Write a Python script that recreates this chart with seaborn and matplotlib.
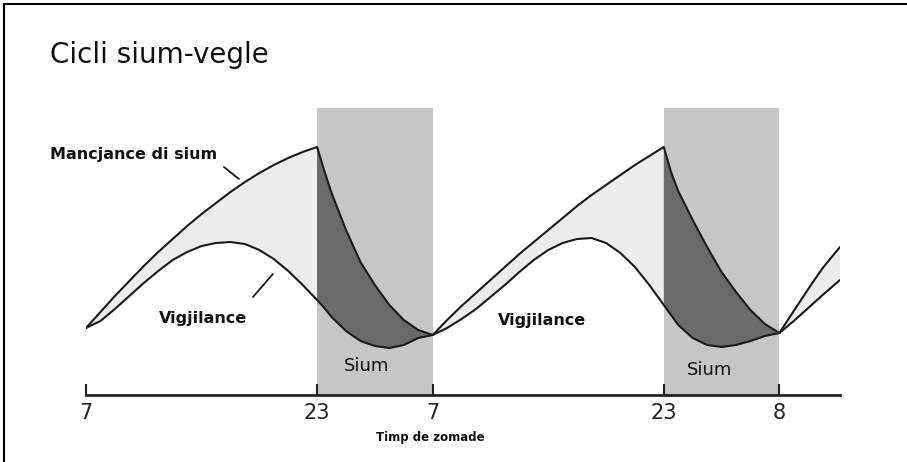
import matplotlib
matplotlib.use("Agg")
import matplotlib.pyplot as plt
from matplotlib.lines import Line2D
import numpy as np
import pandas as pd
import seaborn as sns

# hours since 7:00 of the first day
hours = [0, 1, 2, 3, 4, 5, 6, 7, 8, 9, 10, 11, 12, 13, 14, 15, 16,
         16.5, 17, 18, 19, 20, 21, 22, 23, 24,
         25, 26, 27, 28, 29, 30, 31, 32, 33, 34, 35, 36, 37, 38, 39, 40,
         40.5, 41, 42, 43, 44, 45, 46, 47, 48,
         49, 50, 51, 52.2]

# "Mancjance di sium" (sleep pressure)
mancjance = [72, 88, 104, 119, 134, 148, 161, 174, 186, 197, 208, 218, 227, 235, 242, 248, 253,
             229, 207, 170, 138, 115, 95, 80, 70, 65,
             80, 94, 107, 120, 133, 146, 158, 170, 182, 194, 205, 215, 225, 235, 244, 253,
             228, 209, 180, 153, 128, 108, 90, 76, 67,
             89, 111, 132, 153]

# "Vigjilance" (alertness)
vigjilance = [72, 79, 91, 104, 117, 129, 140, 148, 154, 157, 158, 156, 150, 141, 129, 115, 100,
              92, 83, 69, 59, 54, 52, 55, 62, 65,
              72, 81, 91, 103, 115, 128, 140, 150, 157, 161, 162, 157, 147, 133, 115, 95,
              85, 75, 62, 55, 53, 55, 59, 64, 67,
              79, 92, 105, 120]

sleep_periods = [(16, 24), (40, 48)]
tick_pos = [0, 16, 24, 40, 48]
tick_labels = ["7", "23", "7", "23", "8"]

df = pd.DataFrame({
    "ore": hours * 2,
    "nivel": mancjance + vigjilance,
    "curve": ["Mancjance di sium"] * len(hours) + ["Vigjilance"] * len(hours),
})

sns.set_theme(style="white")
plt.rcParams["font.family"] = ["DejaVu Sans"]

W, H = 907, 462
fig = plt.figure(figsize=(W / 100, H / 100), dpi=100)
ax = fig.add_axes([86 / W, (H - 395) / H, (840 - 86) / W, (395 - 100) / H])

x = np.array(hours)
s = np.array(mancjance)
c = np.array(vigjilance)

# grey sleep bands
ylo, yhi = 5, 300
for a, b in sleep_periods:
    ax.axvspan(a, b, ymin=0, ymax=(292 - ylo) / (yhi - ylo), color="#c6c6c6", lw=0, zorder=0)

# fills between the curves
sleep_mask = np.zeros(len(x), bool)
for a, b in sleep_periods:
    sleep_mask |= (x >= a) & (x <= b)
wake_mask = ~sleep_mask
for a, b in sleep_periods:
    wake_mask |= (x == a) | (x == b)
ax.fill_between(x, s, c, where=wake_mask, color="#ececec", lw=0, zorder=1)
ax.fill_between(x, s, c, where=sleep_mask, color="#6a6a6a", lw=0, zorder=1)

sns.lineplot(data=df, x="ore", y="nivel", units="curve", estimator=None, sort=False,
             color="#1a1a1a", lw=1.5, ax=ax, zorder=3, legend=False)

ax.set_xlim(0, 52.2)
ax.set_ylim(ylo, yhi)
ax.set_yticks([])
ax.set_xticks(tick_pos)
ax.set_xticklabels(tick_labels, fontsize=15, color="#222222")
ax.tick_params(axis="x", direction="in", length=8, width=1.5, color="#222222", pad=6, bottom=True)
for side in ["left", "top", "right"]:
    ax.spines[side].set_visible(False)
ax.spines["bottom"].set_linewidth(2)
ax.spines["bottom"].set_color("#222222")
ax.set_xlabel("")
ax.set_ylabel("")
ax.patch.set_alpha(0)

# labels
ax.text(-2.5, 245, "Mancjance di sium", fontsize=11.5, fontweight="bold", ha="left", va="center",
        color="#111111", clip_on=False)
ax.plot([9.55, 10.59], [233, 221], color="#1a1a1a", lw=1.3, zorder=3)
ax.text(8.1, 82, "Vigjilance", fontsize=11.5, fontweight="bold", ha="center", va="center", color="#111111")
ax.plot([11.56, 12.94], [103, 126], color="#1a1a1a", lw=1.3, zorder=3)
ax.text(31.6, 79, "Vigjilance", fontsize=11.5, fontweight="bold", ha="center", va="center", color="#111111")
ax.text(19.4, 34, "Sium", fontsize=13, ha="center", va="center", color="#111111")
ax.text(43.2, 30, "Sium", fontsize=13, ha="center", va="center", color="#111111")

fig.text(50 / W, 1 - 55 / H, "Cicli sium-vegle", fontsize=20, ha="left", va="center", color="#111111")
fig.text(430 / W, 1 - 437 / H, "Timp de zomade", fontsize=8.5, fontweight="bold", ha="center",
         va="center", color="#111111")

# outer frame (left and top edges visible)
fig.add_artist(Line2D([4 / W, 4 / W], [0, 1 - 4 / H], color="black", lw=1.5))
fig.add_artist(Line2D([4 / W, 1], [1 - 4 / H, 1 - 4 / H], color="black", lw=1.5))

fig.savefig("out.png", dpi=100)
